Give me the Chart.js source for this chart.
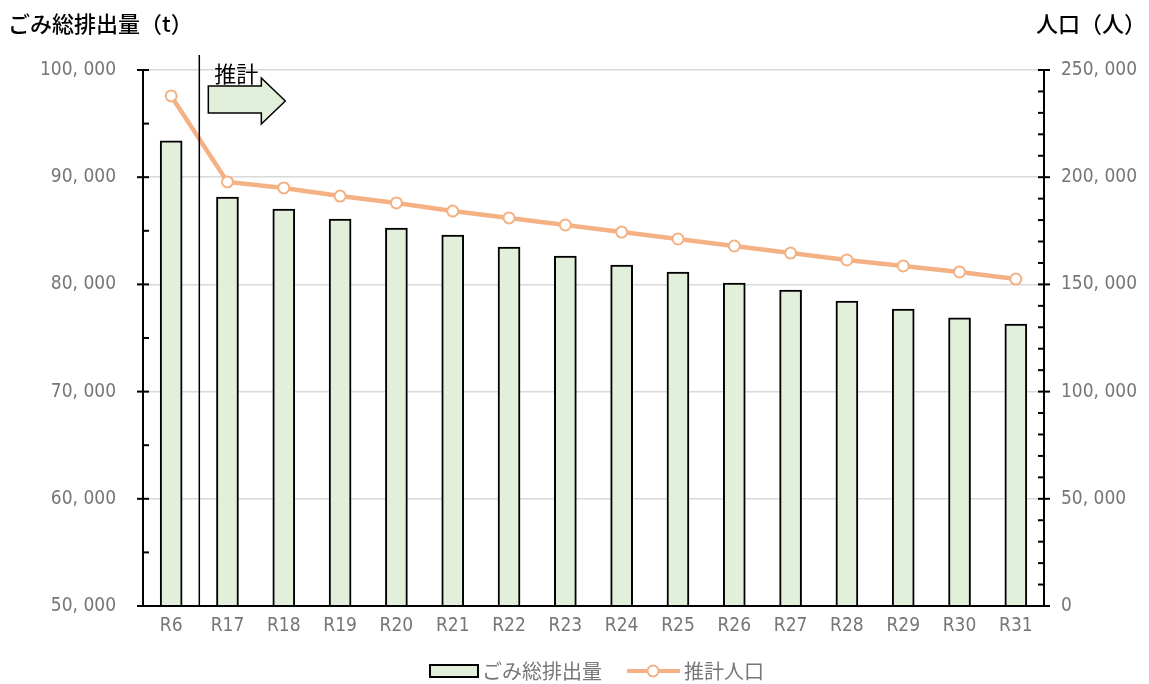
<!DOCTYPE html>
<html>
<head>
<meta charset="utf-8">
<script src="https://cdn.jsdelivr.net/npm/chart.js@4"></script>
<style>
  html, body { margin: 0; padding: 0; background: #fff; }
  #wrap { width: 1149px; height: 684px; position: relative; }
</style>
</head>
<body>
<div id="wrap"><canvas id="wasteChart"></canvas></div>
<script>
const years = ["R6", "R17", "R18", "R19", "R20", "R21", "R22", "R23", "R24", "R25", "R26", "R27", "R28", "R29", "R30", "R31"];
const wasteTotal = [93400, 88150, 87030, 86100, 85260, 84600, 83490, 82650, 81800, 81160, 80130, 79480, 78450, 77700, 76870, 76300];
const population = [237900, 197800, 195000, 191200, 188000, 184200, 181000, 177700, 174400, 171200, 167900, 164600, 161400, 158600, 155800, 152500];
const leftTitle = "ごみ総排出量（t）";
const rightTitle = "人口（人）";
const wasteLabel = "ごみ総排出量";
const popLabel = "推計人口";
const forecastLabel = "推計";

const jp = "'Noto Sans CJK JP', 'Noto Sans', sans-serif";
const narrow = "'Liberation Sans Narrow', 'DejaVu Sans Condensed', 'Noto Sans CJK JP', sans-serif";
const grayText = "#767676";
const barFill = "#E2EFDA";
const lineColor = "#F4B183";

const fmt = v => v.toLocaleString("en-US").replace(/,/g, ", ");

// axis lines, tick marks, titles, forecast marker and legend
const decorations = {
    id: "decorations",
    afterDraw(chart) {
        const ctx = chart.ctx;
        const area = chart.chartArea;
        const yL = chart.scales.y;
        const yR = chart.scales.y1;
        const x = chart.scales.x;
        ctx.save();
        ctx.strokeStyle = "#000";
        ctx.lineWidth = 2;

        // axis lines
        ctx.beginPath();
        ctx.moveTo(area.left, area.top);
        ctx.lineTo(area.left, area.bottom);
        ctx.moveTo(area.right, area.top);
        ctx.lineTo(area.right, area.bottom);
        ctx.moveTo(area.left - 1, area.bottom);
        ctx.lineTo(area.right + 1, area.bottom);
        ctx.stroke();

        // left ticks
        for (let v = 50000; v <= 100000; v += 5000) {
            const py = yL.getPixelForValue(v);
            ctx.beginPath();
            ctx.moveTo(v % 10000 === 0 ? area.left - 6 : area.left, py);
            ctx.lineTo(area.left + 6, py);
            ctx.stroke();
        }
        // right ticks
        for (let v = 0; v <= 250000; v += 10000) {
            const py = yR.getPixelForValue(v);
            ctx.beginPath();
            ctx.moveTo(area.right - 6, py);
            ctx.lineTo(v % 50000 === 0 ? area.right + 6 : area.right, py);
            ctx.stroke();
        }

        // separator between actual and forecast
        const sepX = (x.getPixelForValue(0) + x.getPixelForValue(1)) / 2;
        ctx.lineWidth = 1.5;
        ctx.beginPath();
        ctx.moveTo(sepX, area.top - 15);
        ctx.lineTo(sepX, area.bottom);
        ctx.stroke();

        // forecast arrow
        const ax = sepX + 9;
        ctx.beginPath();
        ctx.moveTo(ax, 86);
        ctx.lineTo(ax + 53, 86);
        ctx.lineTo(ax + 53, 78);
        ctx.lineTo(ax + 77, 101);
        ctx.lineTo(ax + 53, 124);
        ctx.lineTo(ax + 53, 113);
        ctx.lineTo(ax, 113);
        ctx.closePath();
        ctx.fillStyle = barFill;
        ctx.fill();
        ctx.lineWidth = 1.5;
        ctx.stroke();

        ctx.fillStyle = "#000";
        ctx.font = "22px " + jp;
        ctx.textBaseline = "middle";
        ctx.textAlign = "left";
        ctx.fillText(forecastLabel, ax + 6, 74);

        // axis titles
        ctx.font = "500 22px " + jp;
        ctx.fillText(leftTitle, 8, 24);
        ctx.textAlign = "right";
        ctx.fillText(rightTitle, 1146, 24);

        // legend
        const ly = 671;
        ctx.lineWidth = 2;
        ctx.fillStyle = barFill;
        ctx.fillRect(430, ly - 6, 48, 12);
        ctx.strokeRect(430, ly - 6, 48, 12);
        ctx.fillStyle = grayText;
        ctx.font = "20px " + jp;
        ctx.textAlign = "left";
        ctx.fillText(wasteLabel, 482, ly);

        ctx.strokeStyle = lineColor;
        ctx.lineWidth = 4;
        ctx.beginPath();
        ctx.moveTo(627, ly);
        ctx.lineTo(680, ly);
        ctx.stroke();
        ctx.beginPath();
        ctx.arc(653, ly, 5.5, 0, Math.PI * 2);
        ctx.fillStyle = "#fff";
        ctx.fill();
        ctx.lineWidth = 2;
        ctx.stroke();
        ctx.fillStyle = grayText;
        ctx.fillText(popLabel, 684, ly);
        ctx.restore();
    }
};

const ctx = document.getElementById("wasteChart").getContext("2d");

new Chart(ctx, {
    data: {
        labels: years,
        datasets: [
            {
                type: "line",
                label: popLabel,
                data: population,
                yAxisID: "y1",
                borderColor: lineColor,
                borderWidth: 4.5,
                pointRadius: 5.5,
                pointBorderWidth: 2,
                pointBackgroundColor: "#fff",
                pointBorderColor: lineColor,
                tension: 0,
                order: 0
            },
            {
                type: "bar",
                label: wasteLabel,
                data: wasteTotal,
                yAxisID: "y",
                backgroundColor: barFill,
                borderColor: "#000",
                borderWidth: 2,
                barThickness: 22,
                order: 1
            }
        ]
    },
    options: {
        responsive: true,
        maintainAspectRatio: false,
        animation: false,
        layout: { padding: { top: 70, left: 0, right: 0, bottom: 0 } },
        plugins: {
            legend: { display: false },
            tooltip: { enabled: false }
        },
        scales: {
            x: {
                grid: { display: false, drawTicks: false },
                border: { display: false },
                ticks: {
                    color: grayText,
                    padding: 9,
                    font: { family: narrow, size: 19 }
                },
                afterFit: s => { s.height = 78; }
            },
            y: {
                position: "left",
                min: 50000,
                max: 100000,
                grid: { color: "#d9d9d9", lineWidth: 1.5, drawTicks: false },
                border: { display: false },
                ticks: {
                    stepSize: 10000,
                    color: grayText,
                    padding: 27,
                    font: { family: narrow, size: 19 },
                    callback: v => fmt(v)
                },
                afterFit: s => { s.width = 143; }
            },
            y1: {
                position: "right",
                min: 0,
                max: 250000,
                grid: { display: false, drawTicks: false },
                border: { display: false },
                ticks: {
                    stepSize: 50000,
                    color: grayText,
                    padding: 17,
                    font: { family: narrow, size: 19 },
                    callback: v => fmt(v)
                },
                afterFit: s => { s.width = 105; }
            }
        }
    },
    plugins: [decorations]
});
</script>
</body>
</html>
